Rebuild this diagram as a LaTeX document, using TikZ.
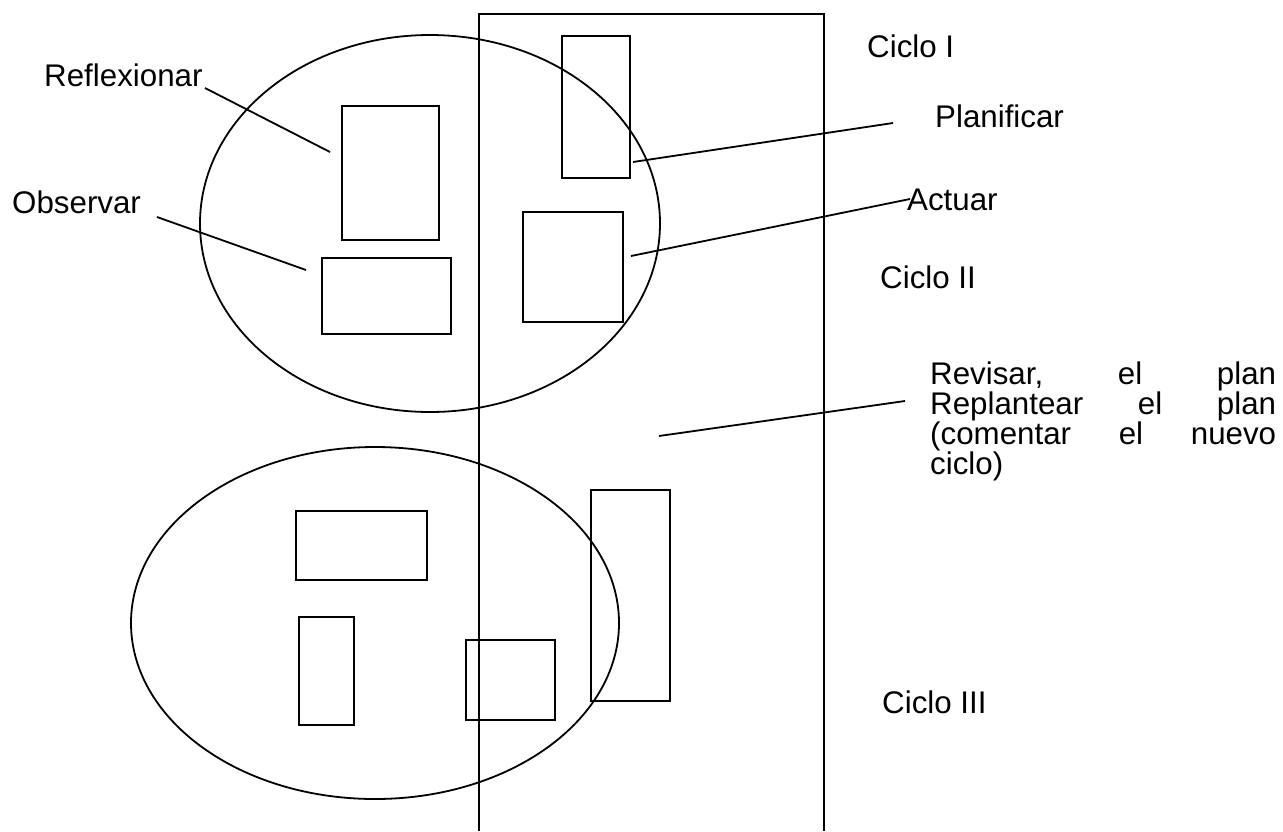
\documentclass[tikz,border=0pt]{standalone}
\usepackage{fontspec}
\setmainfont{Liberation Sans}
\begin{document}
\begin{tikzpicture}[x=1pt,y=-1pt,
  shp/.style={draw=black,line width=1.8pt},
  box/.style={shp,rectangle,inner sep=0pt,anchor=north west},
  lbl/.style={anchor=base west,inner sep=0pt,font=\fontsize{31.3}{28.7}\selectfont},
  lead/.style={draw=black,line width=1.8pt}]
\useasboundingbox[fill=white] (0,0) rectangle (1283,831);
% big open rectangle
\coordinate (bl) at (479,831);
\coordinate (tl) at (479,14);
\coordinate (tr) at (824,14);
\coordinate (br) at (824,831);
\draw[shp] (bl) -- (tl) -- (tr) -- (br);
% ellipses
\draw[shp] (430,223.5) ellipse [x radius=230, y radius=188.5];
\draw[shp] (375,623) ellipse [x radius=244, y radius=176];
% upper boxes
\node[box,minimum width=97pt,minimum height=134pt] (refl) at (341,105) {};
\node[box,minimum width=129pt,minimum height=76pt] (obs) at (321,257) {};
\node[box,minimum width=68pt,minimum height=142pt] (plan) at (561,35) {};
\node[box,minimum width=100pt,minimum height=110pt] (act) at (522,211) {};
% lower boxes
\node[box,minimum width=131pt,minimum height=69pt] (b1) at (295,510) {};
\node[box,minimum width=55pt,minimum height=108pt] (b2) at (298,616) {};
\node[box,minimum width=89pt,minimum height=80pt] (b3) at (465,639) {};
\node[box,minimum width=79pt,minimum height=211pt] (b4) at (590,489) {};
% labels
\node[lbl] (treflex) at (44,86) {Reflexionar};
\node[lbl] (tobs) at (12,213) {Observar};
\node[lbl] (tc1) at (867,57) {Ciclo I};
\node[lbl] (tplan) at (935,127) {Planificar};
\node[lbl] (tact) at (907,210) {Actuar};
\node[lbl] (tc2) at (880,288) {Ciclo II};
\node[lbl] (trev) at (930,384) {\vtop{\baselineskip=28.7pt
\hbox to 346pt{Revisar,\hfill el\hfill plan}
\hbox to 346pt{Replantear\hfill el\hfill plan}
\hbox to 346pt{(comentar\hfill el\hfill nuevo}
\hbox{ciclo)}}};
\node[lbl] (tc3) at (882,713) {Ciclo III};
% leader lines
\coordinate (r1) at (205,88);  \coordinate (r2) at (330,152);
\coordinate (o1) at (157,217); \coordinate (o2) at (306,270);
\coordinate (p1) at (633,162); \coordinate (p2) at (893,123);
\coordinate (a1) at (631,256); \coordinate (a2) at (910,199);
\coordinate (v1) at (659,436); \coordinate (v2) at (905,401);
\draw[lead] (r1) -- (r2);
\draw[lead] (o1) -- (o2);
\draw[lead] (p1) -- (p2);
\draw[lead] (a1) -- (a2);
\draw[lead] (v1) -- (v2);
\end{tikzpicture}
\end{document}
